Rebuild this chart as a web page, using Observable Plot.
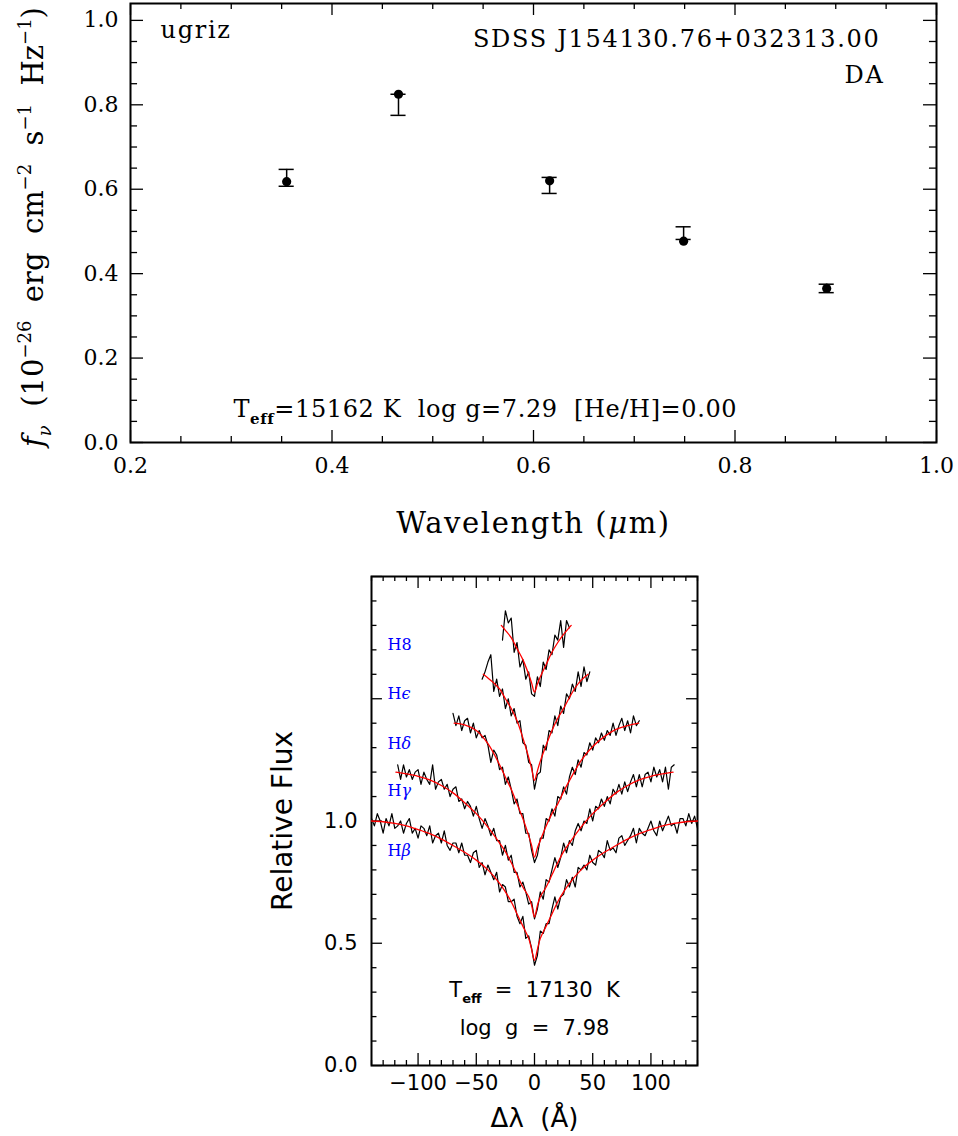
<!DOCTYPE html>
<html><head><meta charset="utf-8">
<script src="https://cdn.jsdelivr.net/npm/d3@7"></script>
<script src="https://cdn.jsdelivr.net/npm/@observablehq/plot@0.6"></script>
<style>
body{margin:0;background:#fff;}
#wrap{position:relative;width:958px;height:1136px;overflow:hidden;background:#fff}
#top{position:absolute;left:0;top:0}
#bot{position:absolute;left:0;top:560px}
svg text{white-space:pre;}
</style></head><body><div id="wrap"><div id="top"></div><div id="bot"></div></div>
<script>
// ---------- Photometry (top panel) ----------
const bands = ["u","g","r","i","z"];
const bandWavelength = [0.355, 0.466, 0.616, 0.749, 0.891];   // µm
const modelFlux = [0.618, 0.825, 0.620, 0.477, 0.365];        // filled circles
const obsFlux = [0.627, 0.800, 0.609, 0.496, 0.365];          // error-bar centres
const obsErr = [0.020, 0.025, 0.019, 0.015, 0.010];
const topXTicks = [0.2, 0.4, 0.6, 0.8, 1.0];
const topYTicks = [0.0, 0.2, 0.4, 0.6, 0.8, 1.0];

// ---------- Balmer line profiles (bottom panel) ----------
const lineNames = ["Hβ","Hγ","Hδ","Hε","H8"];
const lineOffsets = [0, 0.2, 0.4, 0.6, 0.8];
const obsStart = [-140, -117.5, -70, -45, -27.5];   // Å, first pixel
const obsStep = 2.5;                                 // Å per pixel
const obsHbeta = [1.01,0.98,1.03,1.00,0.95,1.01,0.98,1.03,0.97,0.98,
1.00,0.95,0.99,1.01,0.95,0.97,0.93,0.98,0.97,0.94,
0.98,0.91,0.94,0.95,0.91,0.96,0.90,0.88,0.91,0.91,
0.87,0.91,0.86,0.86,0.83,0.87,0.88,0.81,0.83,0.78,
0.82,0.79,0.76,0.79,0.71,0.74,0.73,0.67,0.67,0.68,
0.61,0.58,0.61,0.52,0.53,0.48,0.41,0.45,0.55,0.54,
0.58,0.58,0.64,0.69,0.64,0.69,0.70,0.76,0.73,0.77,
0.73,0.81,0.80,0.82,0.80,0.86,0.83,0.82,0.88,0.87,
0.85,0.92,0.88,0.89,0.87,0.93,0.94,0.90,0.92,0.94,
0.97,0.91,0.97,0.95,0.94,0.97,1.00,0.96,0.94,1.00,
0.96,0.99,1.02,0.98,0.99,0.95,1.01,1.01,0.98,1.03,
0.99,1.02,0.97];
const obsHgamma = [1.03,0.97,1.03,0.98,1.01,0.97,1.00,1.01,0.95,1.00,
0.97,0.95,1.03,0.93,0.96,0.97,0.93,0.95,0.90,0.93,
0.94,0.88,0.89,0.85,0.88,0.86,0.82,0.86,0.81,0.77,
0.81,0.78,0.74,0.77,0.72,0.72,0.66,0.70,0.64,0.66,
0.59,0.59,0.53,0.55,0.51,0.46,0.47,0.40,0.44,0.51,
0.48,0.56,0.55,0.60,0.65,0.61,0.65,0.71,0.67,0.72,
0.70,0.76,0.79,0.76,0.80,0.79,0.85,0.80,0.86,0.85,
0.89,0.86,0.90,0.87,0.93,0.91,0.95,0.91,0.96,0.92,
0.96,0.99,0.94,0.99,0.94,0.99,1.00,0.96,1.02,0.98,
1.01,0.96,1.02,0.93,1.02,1.03];
const obsHdelta = [1.04,0.99,1.03,0.97,1.01,1.02,0.96,1.00,0.94,0.97,
0.94,0.95,0.91,0.84,0.89,0.87,0.81,0.82,0.75,0.78,
0.73,0.67,0.69,0.63,0.63,0.55,0.55,0.48,0.43,
0.46,0.53,0.53,0.61,0.60,0.65,0.62,0.70,0.69,0.74,
0.71,0.78,0.82,0.79,0.85,0.82,0.88,0.87,0.92,0.89,
0.94,0.92,0.96,0.93,0.97,0.95,1.00,0.95,0.99,1.02,
0.97,1.01,0.96,1.03,0.99,1.01];
const obsHeps = [0.98,1.01,1.05,1.08,0.93,0.98,0.91,0.94,0.86,0.90,
0.83,0.86,0.80,0.81,0.72,0.71,0.64,0.63,0.53,
0.59,0.60,0.71,0.69,0.77,0.76,0.83,0.79,0.87,0.84,
0.92,0.90,0.96,0.93,1.01,0.95,1.03,0.97,1.01];
const obsH8 = [0.94,1.06,1.01,1.03,0.89,0.93,0.83,0.86,0.78,0.81,
0.72,0.71,0.79,0.75,0.85,0.82,0.90,0.88,0.96,0.94,
1.02,0.91,1.02,0.99];

// model fits (red)
const fitHbetaX = [-140,-130,-120,-110,-100,-90,-80,-70,-60,-50,-40,-30,-25,-20,-15,-10,-5,-2.5,0,2.5,5,10,15,20,25,30,40,50,60,70,80,90,100,110,120,130,140];
const fitHbetaY = [1.0,0.997,0.99,0.98,0.965,0.948,0.926,0.90,0.872,0.84,0.80,0.745,0.71,0.67,0.62,0.57,0.52,0.475,0.43,0.475,0.52,0.57,0.62,0.67,0.71,0.745,0.80,0.84,0.872,0.90,0.926,0.948,0.965,0.98,0.99,0.997,1.0];
const fitHgammaX = [-119,-110,-100,-90,-80,-70,-60,-50,-40,-30,-25,-20,-15,-10,-5,-2.5,0,2.5,5,10,15,20,25,30,40,50,60,70,80,90,100,110,119];
const fitHgammaY = [1.0,0.993,0.983,0.968,0.945,0.915,0.875,0.83,0.775,0.71,0.675,0.63,0.58,0.53,0.49,0.455,0.407,0.455,0.49,0.53,0.58,0.63,0.675,0.71,0.775,0.83,0.875,0.915,0.945,0.968,0.983,0.993,1.0];
const fitHdeltaX = [-69,-60,-50,-40,-30,-25,-20,-15,-10,-5,-2.5,0,2.5,5,10,15,20,25,30,40,50,60,70,80,89.5];
const fitHdeltaY = [1.0,0.993,0.97,0.916,0.83,0.779,0.73,0.67,0.61,0.54,0.50,0.452,0.49,0.52,0.58,0.63,0.67,0.72,0.765,0.847,0.905,0.945,0.975,0.99,1.0];
const fitHepsX = [-44,-40,-35,-30,-25,-20,-15,-10,-5,-2.5,0,2.5,5,10,15,20,25,30,35,40,46];
const fitHepsY = [1.0,0.985,0.965,0.94,0.90,0.86,0.81,0.74,0.66,0.615,0.566,0.605,0.645,0.71,0.77,0.82,0.86,0.905,0.945,0.975,1.0];
const fitH8X = [-28.5,-25,-20,-15,-10,-5,-2.5,0,2.5,5,10,15,20,25,31.5];
const fitH8Y = [1.0,0.98,0.95,0.905,0.86,0.80,0.765,0.727,0.76,0.79,0.84,0.89,0.93,0.963,1.0];

const botXTicks = [-100, -50, 0, 50, 100];
const botYTicks = [0.0, 0.5, 1.0];

// ---------- tables ----------
const photo = bands.map((b, i) => ({band: b, lam: bandWavelength[i], model: modelFlux[i],
  lo: obsFlux[i] - obsErr[i], hi: obsFlux[i] + obsErr[i]}));
const obsSeries = [obsHbeta, obsHgamma, obsHdelta, obsHeps, obsH8];
const spec = obsSeries.flatMap((arr, k) => arr.map((v, i) => ({line: lineNames[k], x: obsStart[k] + i * obsStep, y: v + lineOffsets[k]})));
const fitXs = [fitHbetaX, fitHgammaX, fitHdeltaX, fitHepsX, fitH8X];
const fitYs = [fitHbetaY, fitHgammaY, fitHdeltaY, fitHepsY, fitH8Y];
const fits = fitXs.flatMap((xs, k) => xs.map((x, i) => ({line: lineNames[k], x, y: fitYs[k][i] + lineOffsets[k]})));

const range = (a, b, s) => d3.range(a, b + s / 2, s).map(v => +v.toFixed(4));
const M = {lineAnchor: "middle"};

// ---------- top panel ----------
const tX = range(0.2, 1.0, 0.05), tY = range(0, 1.0, 0.05);
const isMajor = (v, m) => Math.abs(v / m - Math.round(v / m)) < 1e-6;
const yTop = 1.04;
const topPlot = Plot.plot({
  width: 958, height: 550,
  marginLeft: 130, marginRight: 22, marginTop: 3, marginBottom: 108,
  x: {domain: [0.2, 1.0], axis: null},
  y: {domain: [0, yTop], axis: null},
  style: {fontFamily: "'DejaVu Serif', serif", background: "white", color: "black", overflow: "visible"},
  marks: [
    Plot.ruleX(tX, {x: d => d, y1: 0, y2: d => isMajor(d, 0.2) ? 0.0284 : 0.0142, strokeWidth: 1.3}),
    Plot.ruleX(tX, {x: d => d, y1: yTop, y2: d => yTop - (isMajor(d, 0.2) ? 0.0284 : 0.0142), strokeWidth: 1.3}),
    Plot.ruleY(tY, {y: d => d, x1: 0.2, x2: d => 0.2 + (isMajor(d, 0.2) ? 0.0129 : 0.007), strokeWidth: 1.3}),
    Plot.ruleY(tY, {y: d => d, x1: 1.0, x2: d => 1.0 - (isMajor(d, 0.2) ? 0.0129 : 0.007), strokeWidth: 1.3}),
    Plot.frame({stroke: "black", strokeWidth: 2}),
    Plot.ruleX(photo, {x: "lam", y1: "lo", y2: "hi", strokeWidth: 1.5}),
    Plot.ruleY(photo, {y: "hi", x1: d => d.lam - 0.0075, x2: d => d.lam + 0.0075, strokeWidth: 1.5}),
    Plot.ruleY(photo, {y: "lo", x1: d => d.lam - 0.0075, x2: d => d.lam + 0.0075, strokeWidth: 1.5}),
    Plot.dot(photo, {x: "lam", y: "model", r: 4.6, fill: "black", stroke: "none"}),
    Plot.text(topXTicks, {...M, x: d => d, frameAnchor: "bottom", dy: 23, text: d => d.toFixed(1), fontSize: 22}),
    Plot.text(topYTicks, {...M, y: d => d, frameAnchor: "left", dx: -12, textAnchor: "end", text: d => d.toFixed(1), fontSize: 22}),
    Plot.text(["ugriz"], {...M, frameAnchor: "top-left", dx: 30, dy: 27, textAnchor: "start", fontSize: 24}),
    Plot.text(["SDSS J154130.76+032313.00"], {...M, frameAnchor: "top-right", dx: -56, dy: 36, textAnchor: "end", fontSize: 24}),
    Plot.text(["DA"], {...M, frameAnchor: "top-right", dx: -52, dy: 72, textAnchor: "end", fontSize: 24}),
    Plot.text(["Teff=15162 K  log g=7.29  [He/H]=0.00"], {...M, frameAnchor: "bottom-left", dx: 103, dy: -33, textAnchor: "start", fontSize: 24}),
    Plot.text(["Wavelength (μm)"], {...M, frameAnchor: "bottom", dy: 81, fontSize: 29}),
    Plot.text(["fν (10−26 erg cm−2 s−1 Hz−1)"], {...M, frameAnchor: "left", dx: -97, dy: 4, rotate: -90, textAnchor: "middle", fontSize: 29})
  ]
});
document.getElementById("top").appendChild(topPlot);

// ---------- bottom panel ----------
const bX = range(-140, 140, 10), bY = range(0, 2.0, 0.1);
const yB = 2.0;
const labelDy = [274, 214, 167, 117, 68];
const botPlot = Plot.plot({
  width: 958, height: 576,
  marginLeft: 371, marginRight: 261, marginTop: 16, marginBottom: 71,
  x: {domain: [-140, 140], axis: null},
  y: {domain: [0, yB], axis: null},
  style: {fontFamily: "'DejaVu Sans', sans-serif", background: "white", color: "black", overflow: "visible"},
  marks: [
    Plot.ruleX(bX, {x: d => d, y1: 0, y2: d => isMajor(d, 50) ? 0.049 : 0.0204, strokeWidth: 1.3}),
    Plot.ruleX(bX, {x: d => d, y1: yB, y2: d => yB - (isMajor(d, 50) ? 0.049 : 0.0204), strokeWidth: 1.3}),
    Plot.ruleY(bY, {y: d => d, x1: -140, x2: d => -140 + (isMajor(d, 0.5) ? 9.4 : 4.7), strokeWidth: 1.3}),
    Plot.ruleY(bY, {y: d => d, x1: 140, x2: d => 140 - (isMajor(d, 0.5) ? 9.4 : 4.7), strokeWidth: 1.3}),
    Plot.frame({stroke: "black", strokeWidth: 2}),
    Plot.line(spec, {x: "x", y: "y", z: "line", stroke: "black", strokeWidth: 1.2}),
    Plot.line(fits, {x: "x", y: "y", z: "line", stroke: "#ff0000", strokeWidth: 1.3, curve: "catmull-rom"}),
    Plot.text(botXTicks, {...M, x: d => d, frameAnchor: "bottom", dy: 18, text: d => d < 0 ? "−" + Math.abs(d) : String(d), fontSize: 21}),
    Plot.text(botYTicks, {...M, y: d => d, frameAnchor: "left", dx: -14, textAnchor: "end", text: d => d.toFixed(1), fontSize: 21}),
    Plot.text(["Relative Flux"], {...M, frameAnchor: "left", dx: -88, rotate: -90, textAnchor: "middle", fontSize: 28}),
    Plot.text(["Δλ  (Å)"], {...M, frameAnchor: "bottom", dy: 53, fontSize: 26}),
    Plot.text(["Teff  =  17130  K"], {...M, frameAnchor: "bottom", dy: -75, fontSize: 21}),
    Plot.text(["log  g  =  7.98"], {...M, frameAnchor: "bottom", dy: -37, fontSize: 21}),
    ...lineNames.map((n, k) => Plot.text([n], {...M, frameAnchor: "top-left", dx: 16, dy: labelDy[k], textAnchor: "start", fill: "#0000ff", fontSize: 16, fontFamily: "'DejaVu Serif', serif"}))
  ]
});
document.getElementById("bot").appendChild(botPlot);

// ---------- rich text (sub/superscripts, italics) ----------
function rich(svg, key, parts, size) {
  d3.select(svg).selectAll("text").filter(function() { return this.textContent === key; }).each(function() {
    const t = d3.select(this);
    t.text(null);
    let cur = 0;
    for (const p of parts) {
      const [s, kind = ""] = Array.isArray(p) ? p : [p];
      const target = kind.includes("sub") ? 0.28 * size : kind.includes("sup") ? -0.42 * size : 0;
      const ts = t.append("tspan").text(s);
      if (target !== cur) { ts.attr("dy", target - cur); cur = target; }
      if (kind.includes("sub") || kind.includes("sup")) ts.attr("font-size", Math.round(size * 0.62));
      if (kind.includes("it")) ts.attr("font-style", "italic");
      if (kind.includes("bold")) ts.attr("font-weight", "bold");
    }
  });
}
rich(topPlot, "fν (10−26 erg cm−2 s−1 Hz−1)",
  [["f", "it"], ["ν", "it sub"], "  (10", ["−26", "sup"], "  erg  cm", ["−2", "sup"], "  s", ["−1", "sup"], "  Hz", ["−1", "sup"], ")"], 29);
rich(topPlot, "Wavelength (μm)", ["Wavelength (", ["μ", "it"], "m)"], 29);
rich(topPlot, "Teff=15162 K  log g=7.29  [He/H]=0.00", ["T", ["eff", "sub bold"], "=15162 K  log g=7.29  [He/H]=0.00"], 24);
rich(botPlot, "Teff  =  17130  K", ["T", ["eff", "sub bold"], "  =  17130  K"], 21);
rich(botPlot, "Hβ", ["H", ["β", "it"]], 16);
rich(botPlot, "Hγ", ["H", ["γ", "it"]], 16);
rich(botPlot, "Hδ", ["H", ["δ", "it"]], 16);
rich(botPlot, "Hε", ["H", ["ϵ", "it"]], 16);
d3.select(topPlot).selectAll("text").filter(function() { return /SDSS|^DA$|ugriz/.test(this.textContent); }).style("letter-spacing", "1.7px");
d3.select(topPlot).selectAll("text").filter(function() { return /^Wavelength/.test(this.textContent); }).style("letter-spacing", "1.6px");
d3.select(topPlot).selectAll("text").filter(function() { return /^Teff=/.test(this.textContent); }).style("letter-spacing", "0.6px");
</script></body></html>
